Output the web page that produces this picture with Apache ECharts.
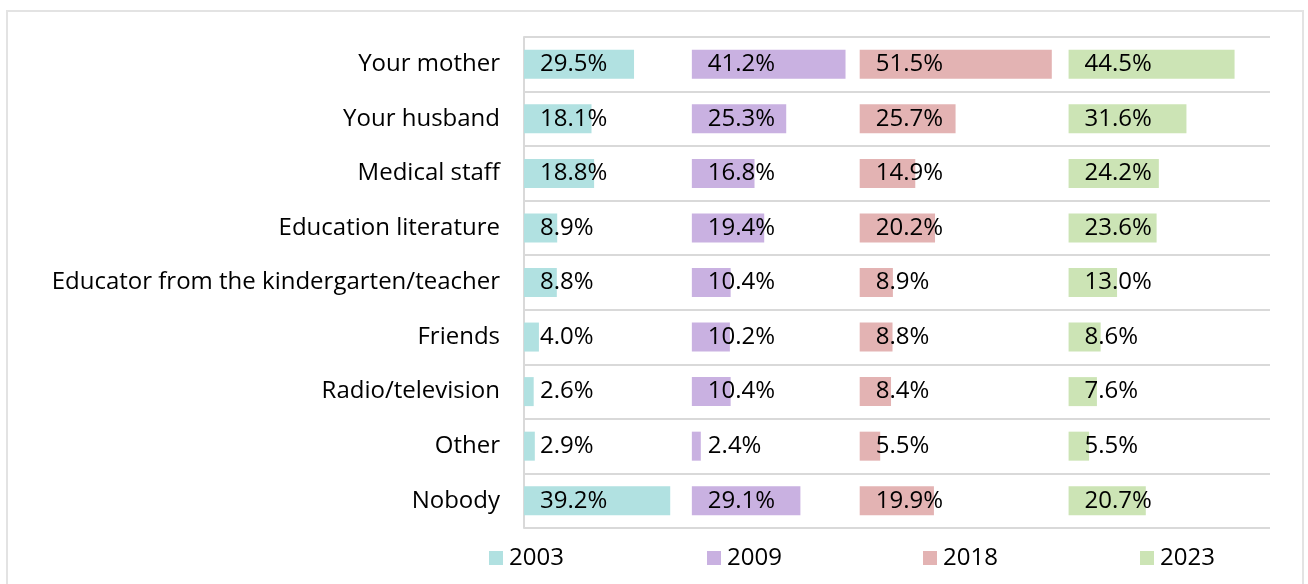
<!DOCTYPE html>
<html>
<head>
<meta charset="utf-8">
<script src="https://cdn.jsdelivr.net/npm/echarts@6/dist/echarts.min.js"></script>
<style>
  html, body { margin: 0; padding: 0; background: #fff; }
  #main { width: 1308px; height: 584px; }
</style>
</head>
<body>
<div id="main"></div>
<script>
// 分类（从上到下）
var categories = ['Your mother', 'Your husband', 'Medical staff', 'Education literature',
  'Educator from the kindergarten/teacher', 'Friends', 'Radio/television', 'Other', 'Nobody'];
var years = ['2003', '2009', '2018', '2023'];
var v2003 = [29.5, 18.1, 18.8, 8.9, 8.8, 4.0, 2.6, 2.9, 39.2];
var v2009 = [41.2, 25.3, 16.8, 19.4, 10.4, 10.2, 10.4, 2.4, 29.1];
var v2018 = [51.5, 25.7, 14.9, 20.2, 8.9, 8.8, 8.4, 5.5, 19.9];
var v2023 = [44.5, 31.6, 24.2, 23.6, 13.0, 8.6, 7.6, 5.5, 20.7];
// 每个面板在横轴上的起点
var panelStart = [0, 45, 90, 146];
var axisMax = 200;

var colors = ['#b1e1e1', '#c9b1e1', '#e3b3b3', '#cce4b5'];
var values = [v2003, v2009, v2018, v2023];
var FONT = 'Open Sans';
var FS = 24;

var chart = echarts.init(document.getElementById('main'));

// 透明占位系列 + 数据系列，堆叠成四个面板
var series = [];
values.forEach(function(vals, i) {
  var prevEnd = i === 0 ? null : values[i - 1];
  series.push({
    name: 'pad' + i,
    type: 'bar',
    stack: 'all',
    barWidth: 29,
    silent: true,
    itemStyle: { color: 'transparent' },
    data: vals.map(function(v, k) {
      return i === 0 ? panelStart[0] : panelStart[i] - (panelStart[i - 1] + prevEnd[k]);
    })
  });
  series.push({
    name: years[i],
    type: 'bar',
    stack: 'all',
    barWidth: 29,
    itemStyle: { color: colors[i] },
    label: {
      show: true,
      position: 'insideLeft',
      distance: 16,
      color: '#000',
      fontFamily: FONT,
      fontSize: FS,
      padding: [5, 0, 0, 0],
      formatter: function(p) { return p.value.toFixed(1) + '%'; }
    },
    data: vals
  });
});

// 图例分开放，位置对应面板
var legendLeft = [489, 707, 923, 1140];
var legends = years.map(function(y, i) {
  return {
    data: [y],
    left: legendLeft[i],
    top: 546,
    padding: 0,
    itemWidth: 14,
    itemHeight: 14,
    itemGap: 0,
    icon: 'rect',
    textStyle: { fontFamily: FONT, fontSize: FS, color: '#000', padding: [0, 0, 0, 1] }
  };
});

chart.setOption({
  animation: false,
  backgroundColor: '#fff',
  graphic: [{
    type: 'rect',
    shape: { x: 7, y: 11, width: 1296, height: 600 },
    style: { fill: 'none', stroke: '#e3e3e3', lineWidth: 2 },
    z: -1
  }],
  legend: legends,
  grid: { left: 524, right: 38, top: 37, bottom: 56 },
  xAxis: {
    type: 'value',
    min: 0,
    max: axisMax,
    axisLine: { show: false },
    axisTick: { show: false },
    axisLabel: { show: false },
    splitLine: { show: false }
  },
  yAxis: {
    type: 'category',
    inverse: true,
    data: categories,
    axisLine: { show: true, lineStyle: { color: '#d9d9d9', width: 2 } },
    axisTick: { show: false },
    axisLabel: { color: '#000', fontFamily: FONT, fontSize: FS, margin: 24, padding: [4, 0, 0, 0] },
    splitLine: { show: true, interval: 0, lineStyle: { color: '#d9d9d9', width: 2 } }
  },
  series: series
});
</script>
</body>
</html>
